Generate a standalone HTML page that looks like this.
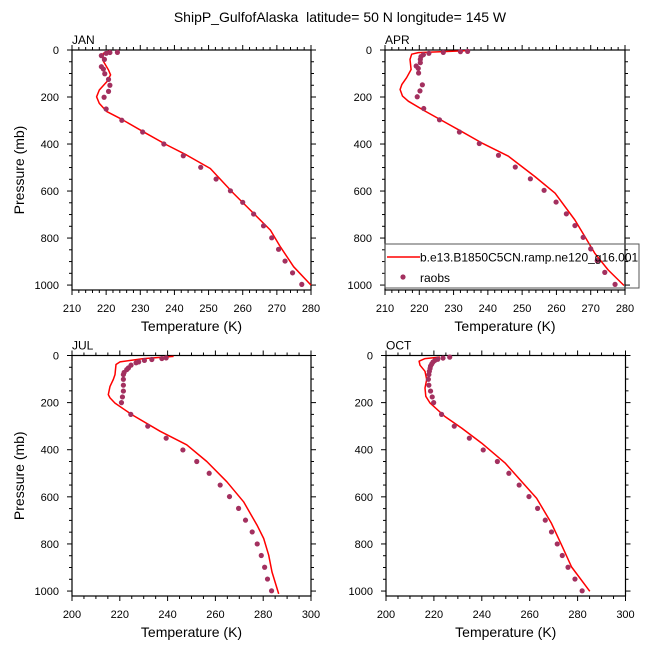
<!DOCTYPE html>
<html><head><meta charset="utf-8"><style>
html,body{margin:0;padding:0;background:#fff;}
svg{display:block;font-family:"Liberation Sans",Arial,sans-serif;}
</style></head><body>
<svg id="chart" width="648" height="648" viewBox="0 0 648 648" xmlns="http://www.w3.org/2000/svg">
<text x="340" y="22" font-size="14" text-anchor="middle">ShipP_GulfofAlaska&#160;&#160;latitude= 50 N longitude= 145 W</text>
</svg>
<script>
// ---- data ----
const janObsT = [223.3,221.1,220,218.6,219.5,218.6,219.2,219.6,220.7,221.1,220.7,219.4,220,224.6,230.7,236.9,242.6,247.7,252.2,256.4,260,263.2,266.1,268.5,270.5,272.4,274.6,277.3];
const janObsP = [10,11,14,24,40,71,81,101,125,150,176,201,251,299,349,400,450,499,549,599,648,698,748,799,848,898,948,997];
const janModT = [221.1,219.2,219.0,220.7,221.3,220.2,218.0,217.2,218.0,220.2,224.1,230.9,237.8,243.6,250.5,257.3,263.2,268.1,271.0,274.9,280];
const janModP = [3,14,43,85,106,135,170,199,227,262,291,348,404,447,504,610,695,766,837,922,1000];

const aprObsT = [234.1,232,227,222.8,221.2,220.5,220.3,220.3,219.1,219.7,219.8,220.9,220.2,219.4,221.3,225.9,231.7,237.5,243.1,248,252.4,256.4,259.9,262.9,265.4,267.8,270,271.9,274.1,277.1];
const aprObsP = [6,7,10,14,20,28,40,54,68,78,98,148,174,199,249,297,349,398,448,498,548,597,647,697,747,797,846,896,946,997];
const aprModT = [233.3,219.7,217.8,217.3,217.6,216.3,214.9,214.4,215.1,216.8,221.7,231.4,238.2,246,253.7,259.6,265.4,268.3,271.2,275.1,279.7];
const aprModP = [3,11,18,40,83,118,147,168,196,218,260,339,395,452,538,609,723,794,865,936,1002];

const julObsT = [239.4,237.6,233.4,230.3,227.9,226.8,224.7,223.6,222.9,221.8,221.5,221.5,221.5,221.5,221.1,220.7,224.6,231.7,239.4,246.4,252.2,257.4,262,265.9,269.7,272.6,275.4,277.5,279.2,280.6,281.8,283.5];
const julObsP = [10,13,17,21,27,31,41,53,60,72,81,101,126,151,176,200,250,300,351,401,450,500,550,599,649,699,749,800,849,899,949,999];
const julModT = [242.5,229.9,220.1,218.4,218,217.3,215.9,215.2,215.9,218,225,236.9,248,256.4,264.8,271.8,277.4,280.2,282.3,283.7,286.5];
const julModP = [4,13,27,38,81,102,131,166,180,202,251,322,379,450,536,621,720,777,848,919,1012];

const octObsT = [226.6,223.8,221.6,220.4,219.6,219.1,218.6,218.4,218.1,217.9,217.7,217.9,218.6,219.3,219.9,223.2,228.5,234.8,240.6,246.5,251.3,255.6,259.7,263.3,266.5,269.1,271.5,273.6,276,278.9,281.9];
const octObsP = [7,11,16,21,28,36,45,55,67,81,101,126,151,176,200,250,300,351,401,450,500,550,599,649,699,749,800,849,899,949,999];
const octModT = [222.5,216.3,213.8,214.2,216.3,217,216.3,216.6,218.4,224.6,231.6,239.9,249.7,256.6,262.9,269.1,273.3,277.5,285.1];
const octModP = [7,13,24,41,67,102,138,173,202,259,308,372,456,535,606,713,805,898,1001];

const xTicksTop = [210,220,230,240,250,260,270,280];
const xTicksBot = [200,220,240,260,280,300];
const yTicks = [0,200,400,600,800,1000];

const panels = [
  {name:'jan',label:'JAN',L:72,R:311,T:50,B:290,xmin:210,xmax:280,major:10,minor:2,xt:xTicksTop,oT:janObsT,oP:janObsP,mT:janModT,mP:janModP},
  {name:'apr',label:'APR',L:385,R:625,T:50,B:290,xmin:210,xmax:280,major:10,minor:2,xt:xTicksTop,oT:aprObsT,oP:aprObsP,mT:aprModT,mP:aprModP},
  {name:'jul',label:'JUL',L:72,R:311,T:355.5,B:596,xmin:200,xmax:300,major:20,minor:5,xt:xTicksBot,oT:julObsT,oP:julObsP,mT:julModT,mP:julModP},
  {name:'oct',label:'OCT',L:386,R:625.5,T:355.5,B:596,xmin:200,xmax:300,major:20,minor:5,xt:xTicksBot,oT:octObsT,oP:octObsP,mT:octModT,mP:octModP}
];
const svg = document.getElementById('chart');
const NS = 'http://www.w3.org/2000/svg';
function mk(tag, attrs, parent){const e=document.createElementNS(NS,tag);for(const k in attrs)e.setAttribute(k,attrs[k]);(parent||svg).appendChild(e);return e;}
const PMAX = 1021;
panels.forEach(p=>{
  const g = mk('g',{});
  
  
  const xs = t => p.L + (t-p.xmin)/(p.xmax-p.xmin)*(p.R-p.L);
  const ys = v => p.T + v/PMAX*(p.B-p.T);
  for(let t=p.xmin;t<=p.xmax+1e-6;t+=p.minor){
    const isMaj = Math.abs((t-p.xmin)%p.major)<1e-6;
    const len = isMaj?5:3; const x=xs(t);
    mk('line',{x1:x,x2:x,y1:p.B,y2:p.B+len,stroke:'#000','stroke-width':1},g);
    mk('line',{x1:x,x2:x,y1:p.T,y2:p.T-len,stroke:'#000','stroke-width':1},g);
  }
  for(let v=0;v<=1000;v+=50){
    const isMaj = v%200===0; const len=isMaj?5:3; const y=ys(v);
    mk('line',{x1:p.L,x2:p.L-len,y1:y,y2:y,stroke:'#000','stroke-width':1},g);
    mk('line',{x1:p.R,x2:p.R+len,y1:y,y2:y,stroke:'#000','stroke-width':1},g);
  }
  const fr = mk('rect',{x:p.L,y:p.T,width:p.R-p.L,height:p.B-p.T,fill:'none',stroke:'#000','stroke-width':1.2},g);
  
  
  p.xt.forEach(t=>{
    const tx = mk('text',{x:xs(t),y:p.B+22,'font-size':11,'text-anchor':'middle'},g);
    
    
    tx.textContent=t;
  });
  yTicks.forEach(v=>{
    const tx = mk('text',{x:p.L-13,y:ys(v)+4,'font-size':11,'text-anchor':'end'},g);
    
    
    tx.textContent=v;
  });
  const lb = mk('text',{x:p.L,y:p.T-6,'font-size':12},g);
  
  
  lb.textContent=p.label;
  const xl = mk('text',{x:(p.L+p.R)/2,y:p.B+41,'font-size':14,'text-anchor':'middle'},g);
  
  
  xl.textContent='Temperature (K)';
  if(p.L<100){
    const cy=(p.T+p.B)/2;
    const yl = mk('text',{x:24,y:cy,'font-size':14,'text-anchor':'middle',transform:'rotate(-90 24 '+cy+')'},g);
    
    
    yl.textContent='Pressure (mb)';
  }
  const d = p.mT.map((t,i)=>(i?'L':'M')+xs(t).toFixed(1)+','+ys(p.mP[i]).toFixed(1)).join(' ');
  const ln = mk('path',{d:d,fill:'none',stroke:'#ff0000','stroke-width':1.5,'stroke-linejoin':'round'},g);
  
  
  p.oT.forEach((t,i)=>{
    const c = mk('circle',{cx:xs(t),cy:ys(p.oP[i]),r:2.6,fill:'#a3305f'},g);
    
    
  });
});
const lg = mk('g',{});


mk('rect',{x:385,y:244,width:254,height:44,fill:'none',stroke:'#555','stroke-width':1},lg);
const l1 = mk('line',{x1:387,x2:420,y1:257,y2:257,stroke:'#ff0000','stroke-width':1.5},lg);


const t1 = mk('text',{x:420,y:261.5,'font-size':12},lg);


t1.textContent='b.e13.B1850C5CN.ramp.ne120_g16.001';
const c1 = mk('circle',{cx:403,cy:277,r:2.6,fill:'#a3305f'},lg);


const t2 = mk('text',{x:420,y:282,'font-size':12},lg);


t2.textContent='raobs';
</script>
</body></html>
